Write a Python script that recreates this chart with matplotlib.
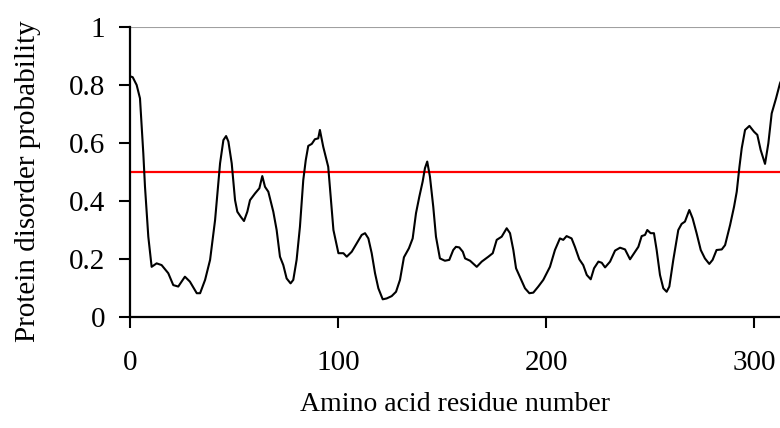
import numpy as np
from matplotlib import pyplot as plt

# residue position vs. disorder probability
residue = [0, 1.3, 3.2, 4.8, 6.4, 7.2, 8.8, 10.4, 12.8, 15.2, 18.4, 20.8, 23.2,
           26.4, 28.8, 32.1, 33.7, 36.1, 38.5, 40.9, 43.3, 44.9, 46.2, 47.3,
           48.9, 50.5, 51.6, 53.2, 54.8, 56.4, 57.7, 60.1, 62.2, 63.6, 64.9,
           66.5, 68.9, 70.5, 72.1, 73.7, 75.3, 77.2, 78.5, 80.1, 81.7, 83.3,
           84.5, 85.7, 87.4, 88.9, 90.5, 91.3, 92.9, 95.3, 97.8, 100.2, 102.6,
           104.2, 106.6, 109, 111.4, 113, 114.6, 116.2, 117.8, 119.4, 121.5,
           123.4, 125.8, 127.9, 129.8, 131.7, 134.1, 135.9, 137.5, 139.1,
           140.7, 141.8, 142.9, 144.2, 145.8, 147.1, 149, 151.4, 153.5, 155.4,
           156.7, 158.3, 160, 161.1, 163.5, 166.7, 169.1, 172.3, 174.4, 176.3,
           178.7, 181.1, 182.7, 184.3, 185.6, 187.8, 189.9, 192, 193.9, 196.3,
           198.7, 201.9, 204.3, 206.7, 208.3, 209.9, 212.3, 213.9, 216, 217.9,
           219.6, 221.5, 223.1, 225.2, 226.8, 228.4, 230.8, 233.2, 235.6, 238,
           240.4, 242.8, 244.4, 246, 247.6, 248.7, 250.3, 251.9, 253.2, 254.8,
           256.4, 258, 259.3, 261.2, 263.6, 265.2, 266.8, 268.9, 270.5, 272.4,
           274.4, 276.4, 278.5, 280.1, 282, 284.5, 286.1, 288.5, 290.4, 291.7,
           293, 294.1, 295.7, 297.8, 300, 301.6, 303.2, 305.3, 306.9, 308.5,
           310.6, 312.5, 314]
disorder = [0.83, 0.827, 0.80, 0.754, 0.564, 0.45, 0.277, 0.173, 0.185, 0.179,
            0.151, 0.11, 0.105, 0.139, 0.122, 0.082, 0.082, 0.128, 0.197,
            0.334, 0.53, 0.61, 0.624, 0.605, 0.53, 0.403, 0.363, 0.346, 0.331,
            0.363, 0.403, 0.426, 0.444, 0.486, 0.449, 0.432, 0.363, 0.3, 0.208,
            0.179, 0.133, 0.116, 0.128, 0.197, 0.311, 0.472, 0.541, 0.59,
            0.597, 0.613, 0.616, 0.645, 0.587, 0.518, 0.3, 0.22, 0.22, 0.208,
            0.225, 0.254, 0.283, 0.289, 0.271, 0.22, 0.151, 0.099, 0.061,
            0.064, 0.072, 0.087, 0.128, 0.206, 0.237, 0.271, 0.358, 0.415,
            0.467, 0.513, 0.536, 0.484, 0.38, 0.277, 0.202, 0.194, 0.197,
            0.231, 0.242, 0.24, 0.225, 0.202, 0.194, 0.173, 0.191, 0.208, 0.22,
            0.266, 0.277, 0.306, 0.289, 0.231, 0.168, 0.133, 0.099, 0.082,
            0.084, 0.105, 0.128, 0.173, 0.231, 0.271, 0.266, 0.279, 0.271,
            0.242, 0.199, 0.179, 0.145, 0.13, 0.168, 0.191, 0.187, 0.171,
            0.191, 0.229, 0.239, 0.233, 0.199, 0.225, 0.242, 0.279, 0.283, 0.3,
            0.289, 0.289, 0.231, 0.145, 0.099, 0.087, 0.105, 0.197, 0.3, 0.321,
            0.329, 0.369, 0.34, 0.289, 0.231, 0.202, 0.183, 0.197, 0.231,
            0.233, 0.248, 0.317, 0.38, 0.432, 0.518, 0.582, 0.645, 0.659,
            0.639, 0.628, 0.576, 0.528, 0.599, 0.702, 0.754, 0.806, 0.83]
threshold = 0.5
x_ticks = [0, 100, 200, 300]
y_ticks = [0, 0.2, 0.4, 0.6, 0.8, 1]
y_ticklabels = ['0', '0.2', '0.4', '0.6', '0.8', '1']

plt.rcParams['font.family'] = ['Liberation Serif', 'DejaVu Serif']

fig = plt.figure(figsize=(7.8, 4.28), dpi=100, facecolor='w')
ax = fig.add_axes([130 / 780, 111 / 428, 650 / 780, 290 / 428])

ax.axhline(1, color='#a0a0a0', lw=1.5, zorder=1)
ax.axhline(threshold, color='#ff0000', lw=1.6, zorder=2)
ax.plot(residue, disorder, color='black', lw=1.5, zorder=3)

ax.set_xlim(0, 312.5)
ax.set_ylim(0, 1)
ax.set_xticks(x_ticks)
ax.set_yticks(y_ticks)
ax.set_yticklabels(y_ticklabels)
for side in ('top', 'right'):
    ax.spines[side].set_visible(False)
for side in ('left', 'bottom'):
    ax.spines[side].set_linewidth(1.6)
ax.tick_params(direction='out', length=8, width=1.5, labelsize=21)
ax.tick_params(axis='y', pad=10)
ax.tick_params(axis='x', pad=16)

ax.set_xlabel('Amino acid residue number', fontsize=20, labelpad=11)
ax.set_ylabel('Protein disorder probability', fontsize=21)
ax.yaxis.set_label_coords(-0.137, 0.47)

fig.savefig('out.png', dpi=100)
